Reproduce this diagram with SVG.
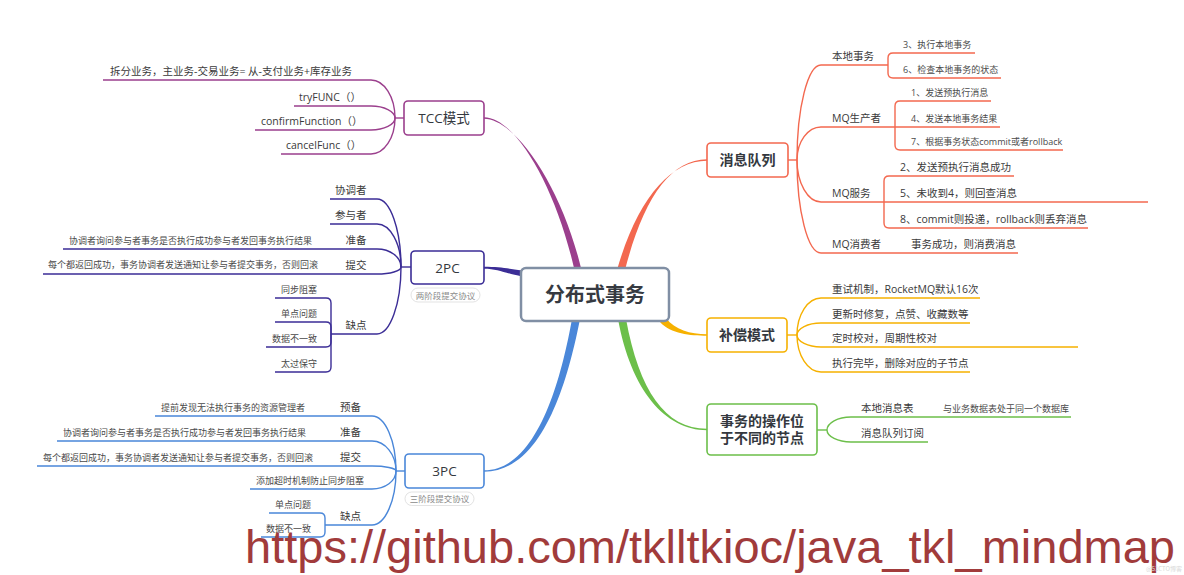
<svg xmlns="http://www.w3.org/2000/svg" width="1184" height="575" viewBox="0 0 1184 575">
<style>
text{font-family:'Open Sans','Noto Sans CJK SC',sans-serif}
.t1{font-size:14px;font-weight:bold;fill:#34383e}
.t1r{font-size:13.5px;fill:#34383e}
.t2{font-size:10.5px;fill:#3a3a3a}
.t3{font-size:9px;fill:#4a4a4a}
.sub{font-size:8.5px;fill:#8a8a8a}
.box{fill:#fff;stroke-width:1.6}
.ln{fill:none;stroke-width:1.4}
.tcc{stroke:#9b3f8d}
.p2{stroke:#3b2d96}
.p3{stroke:#4a87d9}
.mq{stroke:#f3684f}
.bc{stroke:#f6b100}
.gr{stroke:#6cbf4a}
.tag{fill:#fff;stroke:#e3e3e3;stroke-width:1}
text.wm{font-family:'Liberation Sans',Arial,sans-serif;font-size:47px;fill:#a13b3b}
text.wm2{font-family:'Noto Sans CJK SC',sans-serif;font-size:6px;fill:#d8d8d8}
</style>
<rect width="1184" height="575" fill="#fff"/>
<g id="connectors">
  <path d="M484 117.2 C515 117.2 555 185 574 268 L581 268 C561 185 515 118.8 484 118.8 Z" fill="#9b3f8d"/>
  <path d="M484 266.8 C500 266.8 508 268.5 522 270.5 L522 276.5 C506 273.5 498 268.7 484 268.7 Z" fill="#3b2d96"/>
  <path d="M484 470.3 C537 470.3 561 380 572 319 L580 319 C568 380 543 471.7 484 471.7 Z" fill="#4a87d9"/>
  <path d="M707 159.3 C670 159.3 643 200 625 270 L617 270 C637 200 670 160.7 707 160.7 Z" fill="#f3684f"/>
  <path d="M707 334.3 C690 334 675 330 666 318 L660 322 C671 334 690 335.7 707 335.7 Z" fill="#f6b100"/>
  <path d="M707 428.8 C665 428.8 639 390 626 319 L618 319 C631 390 665 430.2 707 430.2 Z" fill="#6cbf4a"/>
  <g class="ln tcc">
    <path d="M404 118 H395"/>
    <path d="M395 118 C395 97.1 384.2 80 371 80 H103"/>
    <path d="M395 118 C395 111.4 384.2 106 371 106 H294"/>
    <path d="M395 118 C395 124.6 384.2 130 371 130 H255"/>
    <path d="M395 118 C395 137.8 384.2 154 371 154 H281"/>
  </g>
  <g class="ln p2">
    <path d="M411 267 H401"/>
    <path d="M401 267 C401 229.6 390.2 199 377 199 H330"/>
    <path d="M401 267 C401 243.4 390.2 224 377 224 H330"/>
    <path d="M401 267 C401 257.1 390.2 249 377 249 H63"/>
    <path d="M401 267 C401 270.9 390.2 274 377 274 H43"/>
    <path d="M401 267 C401 303.9 390.2 334 377 334 H331"/>
    <path d="M331 334 V303 Q331 298 326 298 H275"/>
    <path d="M331 334 V327 Q331 322 326 322 H275"/>
    <path d="M331 334 V342 Q331 347 326 347 H266"/>
    <path d="M331 334 V367 Q331 372 326 372 H275"/>
  </g>
  <g class="ln p3">
    <path d="M405 471 H396"/>
    <path d="M396 471 C396 440.8 385.2 416 372 416 H155"/>
    <path d="M396 471 C396 454.5 385.2 441 372 441 H57"/>
    <path d="M396 471 C396 468.2 385.2 466 372 466 H37"/>
    <path d="M396 471 C396 481 385.2 489 372 489 H250"/>
    <path d="M396 471 C396 500.7 385.2 525 372 525 H325"/>
    <path d="M325 525 V518 Q325 513 320 513 H269"/>
    <path d="M325 525 V532 Q325 537 320 537 H261"/>
  </g>
  <g class="ln mq">
    <path d="M788 160 H797"/>
    <path d="M797 160 C797 107.8 807.8 65 821 65 H888"/>
    <path d="M797 160 C797 141.9 807.8 127 821 127 H895"/>
    <path d="M797 160 C797 183.1 807.8 202 821 202 H884"/>
    <path d="M797 160 C797 211.2 807.8 253 821 253 H1018"/>
    <path d="M888 65 V58 Q888 53 893 53 H975"/>
    <path d="M888 65 V73 Q888 78 893 78 H1001"/>
    <path d="M895 127 V106 Q895 101 900 101 H991"/>
    <path d="M895 127 H1000"/>
    <path d="M895 127 V145 Q895 150 900 150 H1063"/>
    <path d="M884 202 V181 Q884 176 889 176 H1014"/>
    <path d="M884 202 H1148"/>
    <path d="M884 202 V223 Q884 228 889 228 H1088"/>
  </g>
  <g class="ln bc">
    <path d="M787 335 H797"/>
    <path d="M797 335 C797 314.7 807.8 298 821 298 H980"/>
    <path d="M797 335 C797 328.4 807.8 323 821 323 H970"/>
    <path d="M797 335 C797 341.6 807.8 347 821 347 H1078"/>
    <path d="M797 335 C797 355.4 807.8 372 821 372 H970"/>
  </g>
  <g class="ln gr">
    <path d="M817 430 H827"/>
    <path d="M827 430 C827 422.9 837.8 417 851 417 H1071"/>
    <path d="M827 430 C827 436.6 837.8 442 851 442 H928"/>
  </g>
</g>

<g id="center">
  <rect x="521" y="268" width="148" height="53" rx="5" fill="#fff" stroke="#808fa4" stroke-width="2.5"/>
  <text x="595" y="301.5" text-anchor="middle" font-size="20" font-weight="bold" fill="#363a41">分布式事务</text>
</g>

<g id="tcc">
  <rect class="box tcc" x="404" y="101" width="80" height="34" rx="4"/>
  <text class="t1r" x="444" y="123" text-anchor="middle">TCC模式</text>
</g>
<g id="tcc-1"><text class="t2" x="110" y="75">拆分业务，主业务-交易业务= 从-支付业务+库存业务</text></g>
<g id="tcc-2"><text class="t2" x="299" y="101">tryFUNC（）</text></g>
<g id="tcc-3"><text class="t2" x="261" y="125">confirmFunction（）</text></g>
<g id="tcc-4"><text class="t2" x="286" y="149">cancelFunc（）</text></g>

<g id="pc2">
  <rect class="box p2" x="411" y="251" width="73" height="33" rx="4"/>
  <text class="t1r" x="447.5" y="272.5" text-anchor="middle">2PC</text>
  <rect class="tag" x="411" y="288" width="69" height="14" rx="7"/>
  <text class="sub" x="445.5" y="298.5" text-anchor="middle">两阶段提交协议</text>
</g>
<g id="pc2-1"><text class="t2" x="366.5" y="194" text-anchor="end">协调者</text></g>
<g id="pc2-2"><text class="t2" x="366.5" y="219" text-anchor="end">参与者</text></g>
<g id="pc2-3"><text class="t2" x="366.5" y="244" text-anchor="end">准备</text></g>
<g id="pc2-3a"><text class="t3" x="69" y="243.5">协调者询问参与者事务是否执行成功参与者发回事务执行结果</text></g>
<g id="pc2-4"><text class="t2" x="366.5" y="269" text-anchor="end">提交</text></g>
<g id="pc2-4a"><text class="t3" x="48" y="268">每个都返回成功，事务协调者发送通知让参与者提交事务，否则回滚</text></g>
<g id="pc2-5"><text class="t2" x="366.5" y="329" text-anchor="end">缺点</text></g>
<g id="pc2-5a"><text class="t3" x="281" y="293">同步阻塞</text></g>
<g id="pc2-5b"><text class="t3" x="281" y="317">单点问题</text></g>
<g id="pc2-5c"><text class="t3" x="272" y="342">数据不一致</text></g>
<g id="pc2-5d"><text class="t3" x="281" y="367">太过保守</text></g>

<g id="pc3">
  <rect class="box p3" x="405" y="454" width="79" height="34" rx="4"/>
  <text class="t1r" x="444.5" y="476" text-anchor="middle">3PC</text>
  <rect class="tag" x="405" y="492" width="69" height="13.5" rx="6.75"/>
  <text class="sub" x="439.5" y="502" text-anchor="middle">三阶段提交协议</text>
</g>
<g id="pc3-1"><text class="t2" x="361" y="411" text-anchor="end">预备</text></g>
<g id="pc3-1a"><text class="t3" x="161" y="411">提前发现无法执行事务的资源管理者</text></g>
<g id="pc3-2"><text class="t2" x="361" y="436" text-anchor="end">准备</text></g>
<g id="pc3-2a"><text class="t3" x="63" y="436">协调者询问参与者事务是否执行成功参与者发回事务执行结果</text></g>
<g id="pc3-3"><text class="t2" x="361" y="461" text-anchor="end">提交</text></g>
<g id="pc3-3a"><text class="t3" x="43" y="461">每个都返回成功，事务协调者发送通知让参与者提交事务，否则回滚</text></g>
<g id="pc3-4"><text class="t3" x="256" y="484">添加超时机制防止同步阻塞</text></g>
<g id="pc3-5"><text class="t2" x="361" y="520" text-anchor="end">缺点</text></g>
<g id="pc3-5a"><text class="t3" x="275" y="508">单点问题</text></g>
<g id="pc3-5b"><text class="t3" x="266" y="532">数据不一致</text></g>

<g id="mq">
  <rect class="box mq" x="707" y="143" width="81" height="34" rx="4"/>
  <text class="t1" x="747.5" y="165" text-anchor="middle">消息队列</text>
</g>
<g id="mq-1"><text class="t2" x="832" y="60">本地事务</text></g>
<g id="mq-1a"><text class="t3" x="903" y="48">3、执行本地事务</text></g>
<g id="mq-1b"><text class="t3" x="903" y="73">6、检查本地事务的状态</text></g>
<g id="mq-2"><text class="t2" x="832" y="122">MQ生产者</text></g>
<g id="mq-2a"><text class="t3" x="911" y="96">1、发送预执行消息</text></g>
<g id="mq-2b"><text class="t3" x="911" y="122">4、发送本地事务结果</text></g>
<g id="mq-2c"><text class="t3" x="911" y="145">7、根据事务状态commit或者rollback</text></g>
<g id="mq-3"><text class="t2" x="832" y="197">MQ服务</text></g>
<g id="mq-3a"><text class="t2" x="900" y="171">2、发送预执行消息成功</text></g>
<g id="mq-3b"><text class="t2" x="900" y="197">5、未收到4，则回查消息</text></g>
<g id="mq-3c"><text class="t2" x="900" y="223">8、commit则投递，rollback则丢弃消息</text></g>
<g id="mq-4"><text class="t2" x="832" y="248">MQ消费者</text></g>
<g id="mq-4a"><text class="t2" x="911" y="248">事务成功，则消费消息</text></g>

<g id="bc">
  <rect class="box bc" x="707" y="318" width="80" height="34" rx="4"/>
  <text class="t1" x="747" y="340" text-anchor="middle">补偿模式</text>
</g>
<g id="bc-1"><text class="t2" x="832" y="293">重试机制，RocketMQ默认16次</text></g>
<g id="bc-2"><text class="t2" x="832" y="318">更新时修复，点赞、收藏数等</text></g>
<g id="bc-3"><text class="t2" x="832" y="342">定时校对，周期性校对</text></g>
<g id="bc-4"><text class="t2" x="832" y="367">执行完毕，删除对应的子节点</text></g>

<g id="gr">
  <rect class="box gr" x="707" y="404" width="110" height="51" rx="4"/>
  <text class="t1" x="762" y="426" text-anchor="middle">事务的操作位</text>
  <text class="t1" x="762" y="443" text-anchor="middle">于不同的节点</text>
</g>
<g id="gr-1"><text class="t2" x="861" y="412">本地消息表</text></g>
<g id="gr-1a"><text class="t3" x="943" y="411.5">与业务数据表处于同一个数据库</text></g>
<g id="gr-2"><text class="t2" x="861" y="437">消息队列订阅</text></g>

<g id="watermark">
  <text class="wm" x="245" y="563">https://github.com/tklltkioc/java_tkl_mindmap</text>
  <text class="wm2" x="1146" y="571">@51CTO博客</text>
</g>
</svg>
